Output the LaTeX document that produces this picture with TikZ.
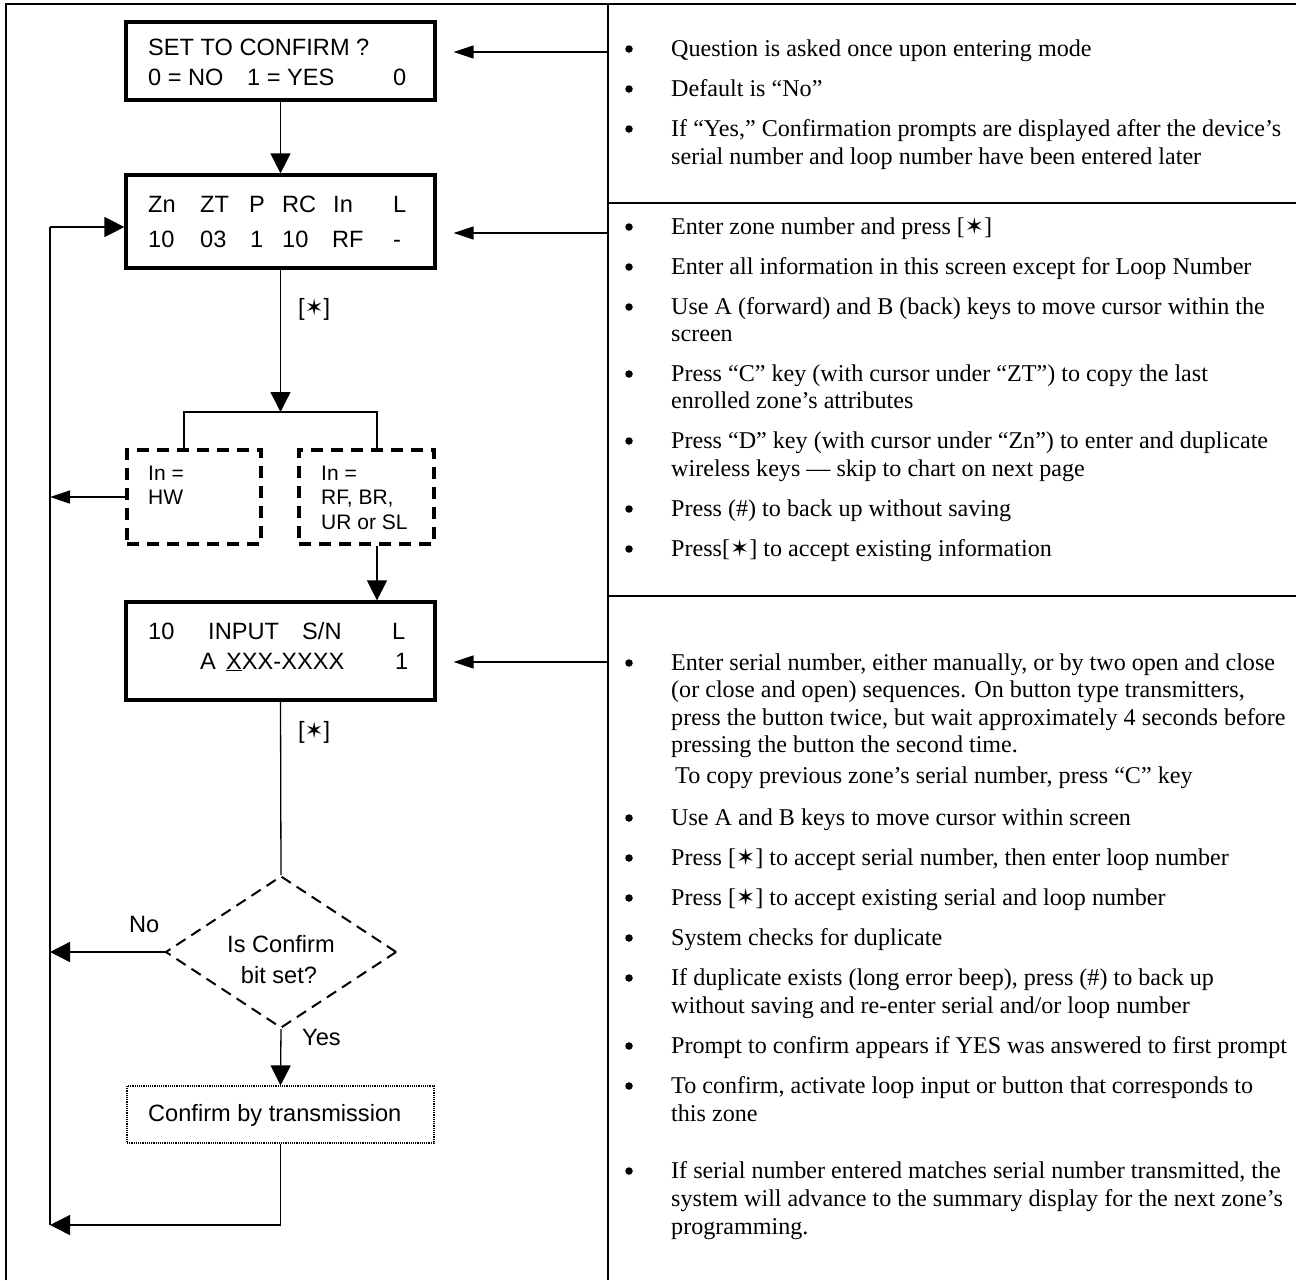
\documentclass[tikz,border=0pt]{standalone}
\usepackage{fontspec}
\setmainfont{Liberation Serif}
\newfontfamily\arialf{Liberation Sans}
\newfontfamily\dvs{DejaVu Sans}
\usetikzlibrary{arrows.meta,shapes.geometric}
\newcommand\kst{{\dvs\scalebox{0.95}{✶}}}
\newcommand\bl[3]{\node[bul] (#1b) at (629,#2-7) {}; \node[rt] (#1) at (671,#2) {#3};}
\newcommand\cl[3]{\node[rt] (#1) at (671,#2) {#3};}
\begin{document}
\begin{tikzpicture}[x=1pt,y=-1pt,
  frame/.style={line width=2.2pt},
  lcd/.style={draw,line width=3.2pt,inner sep=0pt,minimum width=309pt},
  dbox/.style={draw,line width=3.2pt,dash pattern=on 12pt off 8pt,inner sep=0pt,minimum width=134pt,minimum height=94pt},
  conn/.style={line width=1.3pt},
  arr/.style={conn,-{Triangle[length=20pt,width=20pt]}},
  arrn/.style={conn,-{Triangle[length=20pt,width=13pt]}},
  lt/.style={anchor=base west,inner sep=0pt,font=\arialf\fontsize{23.6}{28}\selectfont},
  st/.style={anchor=base west,inner sep=0pt,font=\arialf\fontsize{21}{24}\selectfont},
  rt/.style={anchor=base west,inner sep=0pt,font=\fontsize{24.1}{27.5}\selectfont},
  bul/.style={circle,fill,inner sep=0pt,minimum size=7.5pt},
]
\useasboundingbox (0,0) rectangle (1296,1280);
% frame
\draw[frame] (6,1280) -- (6,4) -- (1296,4);
\draw[frame] (608,4) -- (608,1280);
\draw[frame] (608,203) -- (1296,203);
\draw[frame] (608,596) -- (1296,596);

% boxes
\node[lcd,minimum height=78pt] (set) at (280.5,61) {};
\node[lcd,minimum height=93pt] (zone) at (280.5,221.5) {};
\node[lcd,minimum height=98pt] (sn) at (280.5,651) {};
\node[dbox] (hw) at (194,497) {};
\node[dbox,minimum width=135pt] (rf) at (366.5,497) {};
\node[draw,densely dotted,line width=1.2pt,minimum width=307pt,minimum height=57pt,inner sep=0pt] (conf) at (280.5,1114.5) {};
\node[draw,diamond,dash pattern=on 11pt off 7pt,line width=2pt,minimum width=231pt,minimum height=152pt,inner sep=0pt,aspect=1.52] (dia) at (281,952) {};

% box texts
\node[lt] (t1a) at (148,55) {SET TO CONFIRM ?};
\node[lt] (t1b) at (148,85) {0 = NO};
\node[lt] (t1c) at (247,85) {1 = YES};
\node[lt] (t1d) at (393,85) {0};
\foreach \x/\s [count=\i] in {148/Zn,200/ZT,249/P,282/RC,333/In,393/L}
  \node[lt] (za\i) at (\x,212) {\s};
\foreach \x/\s [count=\i] in {148/10,200/03,250/1,282/10,332/RF,393/-}
  \node[lt] (zb\i) at (\x,247) {\s};
\node[lt] (sa1) at (148,639) {10};
\node[lt] (sa2) at (208,639) {INPUT};
\node[lt] (sa3) at (302,639) {S/N};
\node[lt] (sa4) at (392,639) {L};
\node[lt] (sb1) at (200,669) {A};
\node[lt] (sb2) at (226,669) {\underline{X}XX-XXXX};
\node[lt] (sb3) at (395,669) {1};
\node[st] (h1) at (148,480) {In =};
\node[st] (h2) at (148,504) {HW};
\node[st] (f1) at (321,480) {In =};
\node[st] (f2) at (321,504) {RF, BR,};
\node[st] (f3) at (321,529) {UR or SL};
\node[lt] (k1) at (298,315) {[\kst]};
\node[lt] (k2) at (298,738) {[\kst]};
\node[lt] (no) at (129,932) {No};
\node[lt] (yes) at (302,1045) {Yes};
\node[lt,anchor=base] (dt1) at (281,952) {Is Confirm};
\node[lt,anchor=base] (dt2) at (279,983) {bit set?};
\node[lt] (ct) at (148,1121) {Confirm by transmission};

% connectors
\coordinate (lt) at (50,227);
\coordinate (lb) at (50,1225);
\draw[conn] (lt) -- (lb);
\draw[arr] (lt) -- (zone.west |- lt);
\draw[arr] (set.south) -- (zone.north);
\coordinate (br) at (280.5,412);
\coordinate (brl) at (184,412);
\coordinate (brr) at (377,412);
\draw[arr] (zone.south) -- (br);
\draw[conn] (brl |- hw.north) -- (brl) -- (brr) -- (brr |- rf.north);
\draw[arrn] (hw.west) -- (lt |- hw.west);
\draw[arr] (brr |- rf.south) -- (brr |- sn.north);
\draw[conn] (sn.south) -- (dia.north);
\draw[arr] (dia.west) -- (lt |- dia.west);
\draw[arr] (dia.south) -- (conf.north);
\draw[arr] (conf.south) -- (conf.south |- lb) -- (lb);

\coordinate (d1) at (608,52);
\coordinate (d2) at (608,233);
\coordinate (d3) at (608,662);
\draw[arrn,shorten >=17pt] (d1) -- (set.east |- d1);
\draw[arrn,shorten >=17pt] (d2) -- (zone.east |- d2);
\draw[arrn,shorten >=17pt] (d3) -- (sn.east |- d3);

% right text
\bl{r1}{56}{Question is asked once upon entering mode}
\bl{r2}{96}{Default is “No”}
\bl{r3}{136}{If “Yes,” Confirmation prompts are displayed after the device’s}
\cl{r3c}{164}{serial number and loop number have been entered later}

\bl{s1}{234}{Enter zone number and press [\kst]}
\bl{s2}{274}{Enter all information in this screen except for Loop Number}
\bl{s3}{314}{Use A (forward) and B (back) keys to move cursor within the}
\cl{s3c}{341}{screen}
\bl{s4}{381}{Press “C” key (with cursor under “ZT”) to copy the last}
\cl{s4c}{408}{enrolled zone’s attributes}
\bl{s5}{448}{Press “D” key (with cursor under “Zn”) to enter and duplicate}
\cl{s5c}{476}{wireless keys — skip to chart on next page}
\bl{s6}{516}{Press (\#) to back up without saving}
\bl{s7}{556}{Press[\kst] to accept existing information}

\bl{u1}{670}{Enter serial number, either manually, or by two open and close}
\cl{u1c}{697}{(or close and open) sequences. On button type transmitters,}
\cl{u1d}{725}{press the button twice, but wait approximately 4 seconds before}
\cl{u1e}{752}{pressing the button the second time.}
\node[rt] (u1f) at (675,783) {To copy previous zone’s serial number, press “C” key};
\bl{u2}{825}{Use A and B keys to move cursor within screen}
\bl{u3}{865}{Press [\kst] to accept serial number, then enter loop number}
\bl{u4}{905}{Press [\kst] to accept existing serial and loop number}
\bl{u5}{945}{System checks for duplicate}
\bl{u6}{985}{If duplicate exists (long error beep), press (\#) to back up}
\cl{u6c}{1013}{without saving and re-enter serial and/or loop number}
\bl{u7}{1053}{Prompt to confirm appears if YES was answered to first prompt}
\bl{u8}{1093}{To confirm, activate loop input or button that corresponds to}
\cl{u8c}{1121}{this zone}
\bl{u9}{1178}{If serial number entered matches serial number transmitted, the}
\cl{u9c}{1206}{system will advance to the summary display for the next zone’s}
\cl{u9d}{1234}{programming.}
\end{tikzpicture}
\end{document}
